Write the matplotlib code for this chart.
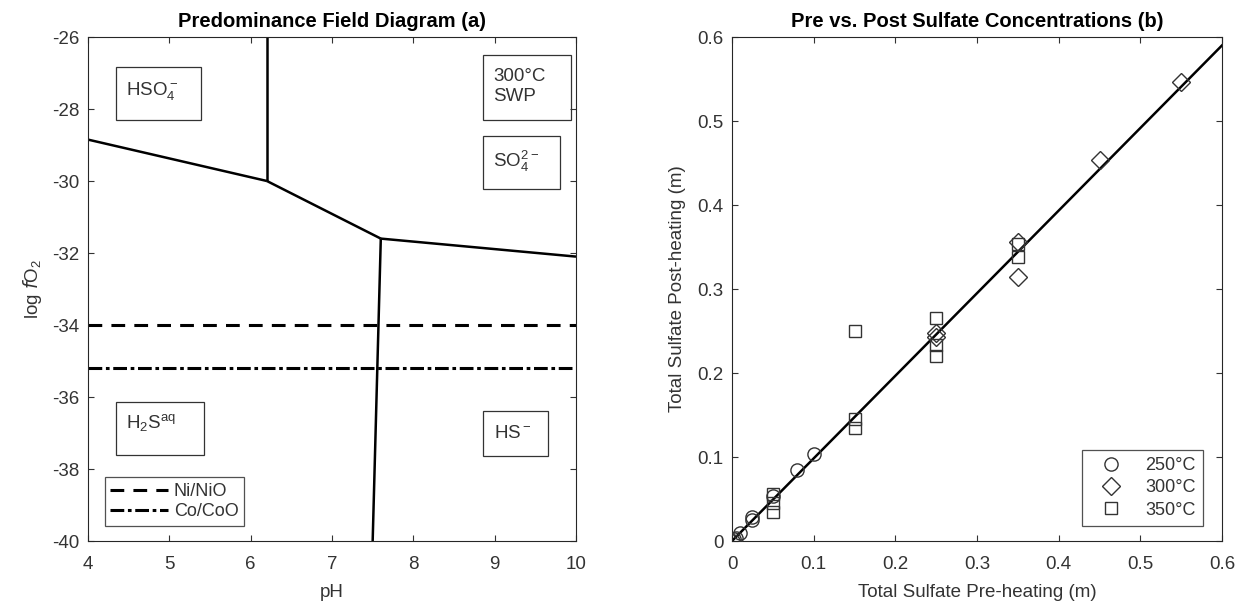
import matplotlib
matplotlib.use("Agg")
import matplotlib.pyplot as plt
from matplotlib.patches import Rectangle
import numpy as np

plt.rcParams['font.family'] = ['Liberation Sans', 'DejaVu Sans']
plt.rcParams['mathtext.default'] = 'regular'
plt.rcParams['axes.unicode_minus'] = False

# ---------------- Data: panel (a) ----------------
# Boundary lines (pH, log fO2)
bnd_hso4_h2s_pH = [4.0, 6.2]
bnd_hso4_h2s_fO2 = [-28.85, -30.0]
bnd_hso4_so4_pH = [6.2, 6.2]
bnd_hso4_so4_fO2 = [-26.0, -30.0]
bnd_so4_h2s_pH = [6.2, 7.6]
bnd_so4_h2s_fO2 = [-30.0, -31.6]
bnd_so4_hs_pH = [7.6, 10.0]
bnd_so4_hs_fO2 = [-31.6, -32.1]
bnd_h2s_hs_pH = [7.6, 7.5]
bnd_h2s_hs_fO2 = [-31.6, -40.0]
ni_nio_fO2 = -34.0
co_coo_fO2 = -35.2
buffer_pH = [4.0, 10.0]

# ---------------- Data: panel (b) ----------------
pre_250 = [0.001, 0.003, 0.005, 0.01, 0.025, 0.025, 0.05, 0.08, 0.10]
post_250 = [0.000, 0.002, 0.004, 0.010, 0.025, 0.028, 0.054, 0.084, 0.104]
pre_300 = [0.25, 0.25, 0.35, 0.35, 0.45, 0.55]
post_300 = [0.248, 0.243, 0.356, 0.314, 0.453, 0.547]
pre_350 = [0.05, 0.05, 0.05, 0.15, 0.15, 0.15, 0.25, 0.25, 0.25, 0.35, 0.35]
post_350 = [0.056, 0.045, 0.035, 0.250, 0.145, 0.135, 0.265, 0.233, 0.220, 0.353, 0.338]
fit_x = [0.0, 0.6]
fit_y = [0.0, 0.59]

W, H = 1245, 607
fig = plt.figure(figsize=(W / 100, H / 100), dpi=100)
ax1 = fig.add_axes([88 / W, (H - 541) / H, 488 / W, 504 / H])
ax2 = fig.add_axes([732 / W, (H - 541) / H, 490 / W, 504 / H])

tick_col = '#333333'
fs = 13.5

def style(ax):
    for s in ax.spines.values():
        s.set_color('#262626')
        s.set_linewidth(0.8)
    ax.tick_params(direction='in', top=True, right=True, length=4, width=0.8,
                   labelsize=fs, colors=tick_col)
    ax.tick_params(axis='x', pad=11)
    ax.tick_params(axis='y', pad=6)

# ---- Panel (a)
lw = 1.8
for xs, ys in [(bnd_hso4_h2s_pH, bnd_hso4_h2s_fO2), (bnd_hso4_so4_pH, bnd_hso4_so4_fO2),
               (bnd_so4_h2s_pH, bnd_so4_h2s_fO2), (bnd_so4_hs_pH, bnd_so4_hs_fO2),
               (bnd_h2s_hs_pH, bnd_h2s_hs_fO2)]:
    ax1.plot(xs, ys, color='black', lw=lw, solid_capstyle='butt')
ax1.plot(buffer_pH, [ni_nio_fO2] * 2, color='black', lw=2.2, linestyle=(0, (4.5, 3)), label='Ni/NiO')
ax1.plot(buffer_pH, [co_coo_fO2] * 2, color='black', lw=2.2, linestyle=(0, (4.5, 1.2, 1.2, 1.2)), label='Co/CoO')
ax1.set_xlim(4, 10)
ax1.set_ylim(-40, -26)
ax1.set_xticks(np.arange(4, 11, 1))
ax1.set_yticks(np.arange(-40, -25, 2))
style(ax1)
ax1.set_xlabel('pH', fontsize=fs, color=tick_col, labelpad=8)
ax1.set_ylabel('log $\\it{f}$O$_2$', fontsize=fs, color=tick_col, labelpad=6)
ax1.set_title('Predominance Field Diagram (a)', fontsize=14.5, fontweight='bold', pad=7)

boxes = [
    ((4.35, -28.31), 1.04, 1.47, 'HSO$_4^-$', 4.47, -27.5),
    ((8.86, -28.30), 1.08, 1.80, '300°C\nSWP', 8.98, -27.38),
    ((8.86, -30.23), 0.94, 1.49, 'SO$_4^{2-}$', 8.98, -29.45),
    ((4.35, -37.62), 1.08, 1.47, 'H$_2$S$^{aq}$', 4.47, -36.72),
    ((8.86, -37.63), 0.80, 1.23, 'HS$^-$', 8.99, -37.0),
]
for (xy, w, h, txt, tx, ty) in boxes:
    ax1.add_patch(Rectangle(xy, w, h, fill=False, edgecolor='#333333', lw=0.9, zorder=3))
    ax1.text(tx, ty, txt, fontsize=fs, color=tick_col, ha='left', va='center',
             linespacing=1.25, zorder=4)

leg1 = ax1.legend(loc='lower left', bbox_to_anchor=(0.035, 0.03), fontsize=13,
                  frameon=True, fancybox=False, handlelength=3.2, handletextpad=0.3,
                  borderpad=0.3, labelspacing=0.2, borderaxespad=0)
leg1.get_frame().set_edgecolor('#262626')
leg1.get_frame().set_linewidth(0.9)
for t in leg1.get_texts():
    t.set_color(tick_col)

# ---- Panel (b)
ax2.plot(fit_x, fit_y, color='black', lw=1.8, zorder=2)
mk = dict(linestyle='none', markerfacecolor='none', markeredgecolor='#333333',
          markeredgewidth=1.0, zorder=3)
ax2.plot(pre_250, post_250, marker='o', markersize=9.5, label='250°C', **mk)
ax2.plot(pre_300, post_300, marker='D', markersize=9, label='300°C', **mk)
ax2.plot(pre_350, post_350, marker='s', markersize=9, label='350°C', **mk)
ax2.set_xlim(0, 0.6)
ax2.set_ylim(0, 0.6)
ax2.set_xticks(np.arange(0, 0.61, 0.1))
ax2.set_yticks(np.arange(0, 0.61, 0.1))
ax2.set_xticklabels(['0', '0.1', '0.2', '0.3', '0.4', '0.5', '0.6'])
ax2.set_yticklabels(['0', '0.1', '0.2', '0.3', '0.4', '0.5', '0.6'])
style(ax2)
ax2.set_xlabel('Total Sulfate Pre-heating (m)', fontsize=fs, color=tick_col, labelpad=8)
ax2.set_ylabel('Total Sulfate Post-heating (m)', fontsize=fs, color=tick_col, labelpad=8)
ax2.set_title('Pre vs. Post Sulfate Concentrations (b)', fontsize=14.5, fontweight='bold', pad=7)
leg2 = ax2.legend(loc='lower right', bbox_to_anchor=(0.961, 0.03), fontsize=13,
                  frameon=True, fancybox=False, handlelength=2.4, handletextpad=0.7,
                  borderpad=0.4, labelspacing=0.3, borderaxespad=0)
leg2.get_frame().set_edgecolor('#262626')
leg2.get_frame().set_linewidth(0.9)
for t in leg2.get_texts():
    t.set_color(tick_col)

fig.savefig('out.png', dpi=100)
